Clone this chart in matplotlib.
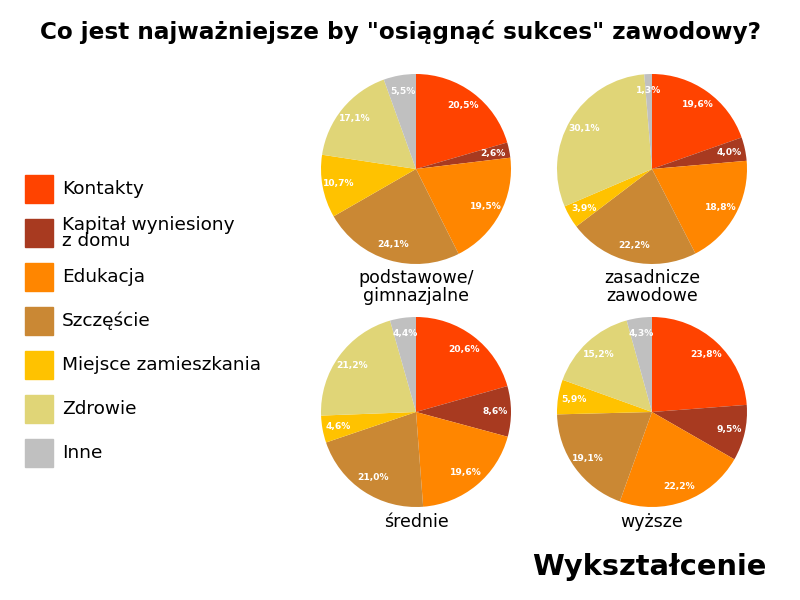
import matplotlib
matplotlib.use('Agg')
import matplotlib.pyplot as plt
from matplotlib.patches import Rectangle

plt.rcParams['font.family'] = ['DejaVu Sans']

# kategorie i kolory
categories = ['Kontakty', 'Kapitał wyniesiony\nz domu', 'Edukacja', 'Szczęście',
              'Miejsce zamieszkania', 'Zdrowie', 'Inne']
colors = ['#FF4300', '#A83A20', '#FF8600', '#CA8834', '#FFC200', '#E0D577', '#C0C0C0']

# udziały w poszczególnych grupach wykształcenia
groups = ['podstawowe/\ngimnazjalne', 'zasadnicze\nzawodowe', 'średnie', 'wyższe']
podstawowe = [20.5, 2.6, 19.5, 24.1, 10.7, 17.1, 5.5]
zasadnicze = [19.6, 4.0, 18.8, 22.2, 3.9, 30.1, 1.3]
srednie = [20.6, 8.6, 19.6, 21.0, 4.6, 21.2, 4.4]
wyzsze = [23.8, 9.5, 22.2, 19.1, 5.9, 15.2, 4.3]
values = [podstawowe, zasadnicze, srednie, wyzsze]

fig = plt.figure(figsize=(8, 6), dpi=100)

# środki wykresów kołowych w pikselach
w, h = 190 / 800, 190 / 600
centers = [(416, 169), (652, 169), (416, 412), (652, 412)]
label_y = [287, 287, 522, 522]

for vals, (cx, cy), name, ly in zip(values, centers, groups, label_y):
    ax = fig.add_axes([cx / 800 - w / 2, 1 - cy / 600 - h / 2, w, h])
    texts = iter([f'{v:.1f}'.replace('.', ',') + '%' for v in vals])
    ax.pie(vals, colors=colors, startangle=90, counterclock=False,
           autopct=lambda p, it=texts: next(it), pctdistance=0.83,
           textprops={'color': 'white', 'fontsize': 6.6, 'fontweight': 'bold'},
           wedgeprops={'linewidth': 0})
    ax.set_xlim(-1, 1)
    ax.set_ylim(-1, 1)
    ax.set_aspect('equal')
    fig.text(cx / 800, 1 - ly / 600, name, ha='center', va='center',
             fontsize=12.5, linespacing=0.95)

# legenda
for i, (cat, col) in enumerate(zip(categories, colors)):
    yc = 1 - (189 + i * 44) / 600
    fig.patches.append(Rectangle((25 / 800, yc - 14 / 600), 28 / 800, 28 / 600,
                                 transform=fig.transFigure, color=col))
    fig.text(62 / 800, yc, cat, ha='left', va='center', fontsize=13.3,
             linespacing=0.8)

fig.text(0.5, 1 - 32 / 600, 'Co jest najważniejsze by "osiągnąć sukces" zawodowy?',
         ha='center', va='center', fontsize=16.7, fontweight='bold')
fig.text(767 / 800, 1 - 567 / 600, 'Wykształcenie', ha='right', va='center',
         fontsize=20.8, fontweight='bold')

fig.savefig('out.png', dpi=100, facecolor='white')
